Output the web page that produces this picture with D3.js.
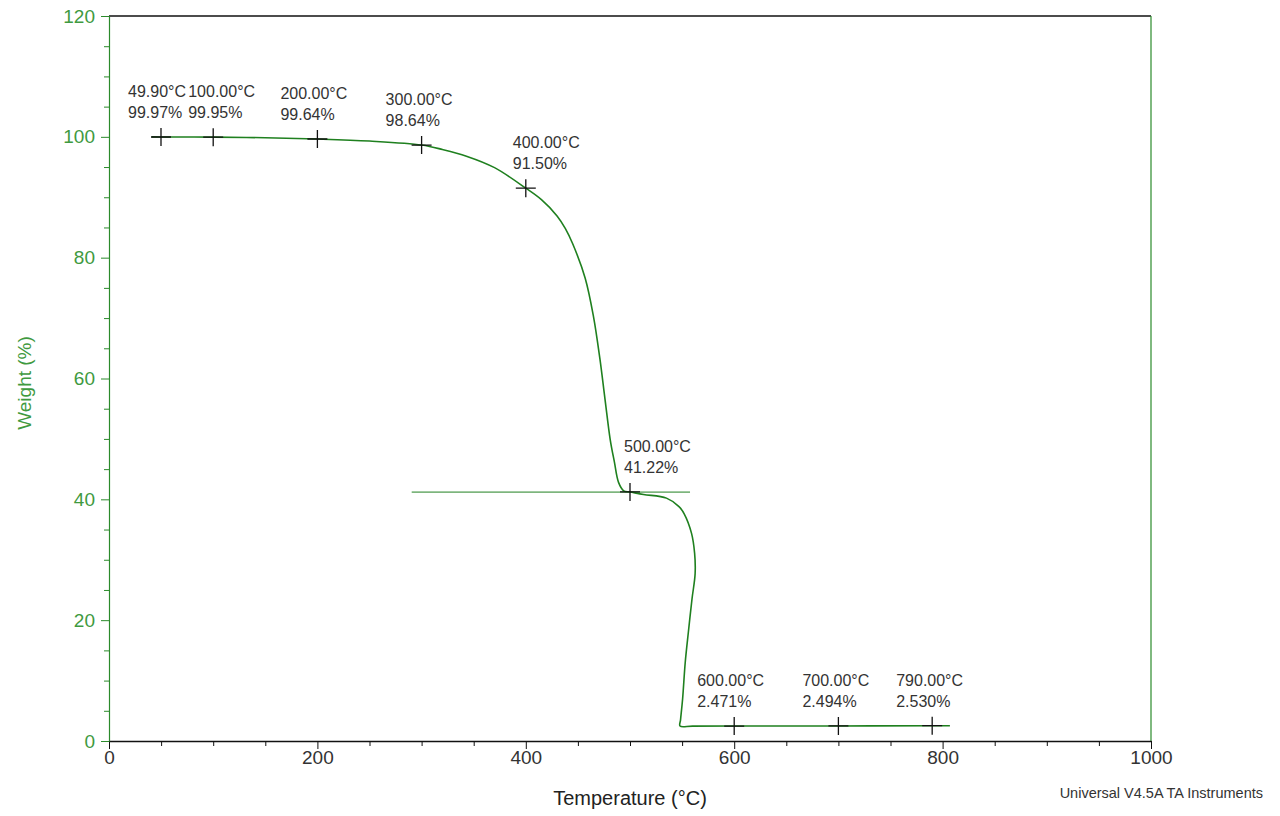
<!DOCTYPE html>
<html>
<head>
<meta charset="utf-8">
<script src="https://cdn.jsdelivr.net/npm/d3@7"></script>
<style>
  body { margin: 0; background: #fff; }
  svg { display: block; font-family: "Liberation Sans", Arial, sans-serif; }
</style>
</head>
<body>
<script>
// TGA curve, weight (%) vs temperature (°C)
const curveTemp   = [41, 49.9, 100, 150, 200, 250, 300, 320, 343, 370, 400, 415, 430, 438, 445, 457, 465, 471, 476, 481, 485, 489, 494, 500, 513, 535, 547, 552, 559, 562, 562.5, 559.5, 556, 553, 550.5, 548.5, 548, 560, 600, 700, 790, 807];
const curveWeight = [100.0, 99.97, 99.95, 99.85, 99.64, 99.3, 98.64, 97.9, 96.8, 94.9, 91.5, 89.6, 86.9, 84.8, 82.3, 76.6, 70.2, 63.4, 56.6, 49.9, 46.2, 42.8, 41.4, 41.22, 40.8, 40.2, 38.8, 37.6, 34.4, 31.1, 27.7, 23.5, 18, 13, 7, 3.5, 2.47, 2.47, 2.471, 2.494, 2.53, 2.53];

// annotated points
const markerTemp   = [49.9, 100, 200, 300, 400, 500, 600, 700, 790];
const markerWeight = [99.97, 99.95, 99.64, 98.64, 91.50, 41.22, 2.471, 2.494, 2.530];
const markerTempText   = ["49.90°C", "100.00°C", "200.00°C", "300.00°C", "400.00°C", "500.00°C", "600.00°C", "700.00°C", "790.00°C"];
const markerWeightText = ["99.97%", "99.95%", "99.64%", "98.64%", "91.50%", "41.22%", "2.471%", "2.494%", "2.530%"];
const labelDx = [-33, -25, -37, -36, -13, -6, -37, -36, -36]; // label shift, px

// horizontal step line
const stepTemp = [290.5, 557.6];
const stepWeight = 41.2;

const xTicks = [0, 200, 400, 600, 800, 1000];
const yTicks = [0, 20, 40, 60, 80, 100, 120];

const width = 1280, height = 816;
const mLeft = 109, mRight = 1151, mTop = 16, mBottom = 741;
const green = "#2b8a2b", lineGreen = "#1f801f", dark = "#333";

const svg = d3.select("body").append("svg")
    .attr("width", width)
    .attr("height", height);

const x = d3.scaleLinear().domain([0, 1000]).range([mLeft, mRight]);
const y = d3.scaleLinear().domain([0, 120]).range([mBottom, mTop]);

// frame: top black, right green
svg.append("line").attr("x1", mLeft).attr("x2", mRight).attr("y1", mTop).attr("y2", mTop)
    .attr("stroke", "#111").attr("stroke-width", 1.5);
svg.append("line").attr("x1", mRight).attr("x2", mRight).attr("y1", mTop).attr("y2", mBottom)
    .attr("stroke", green).attr("stroke-width", 1.2);

// x axis: minor ticks every 50, labelled every 200
const xMinor = d3.range(0, 1001, 50);
const xAxis = svg.append("g")
    .attr("transform", `translate(0,${mBottom})`)
    .call(d3.axisBottom(x).tickValues(xMinor).tickSize(5).tickSizeOuter(0)
        .tickFormat(d => xTicks.includes(d) ? d : ""));
xAxis.select(".domain").attr("stroke", "#111").attr("stroke-width", 1.5);
xAxis.selectAll(".tick line").attr("stroke", "#111")
    .attr("y2", d => xTicks.includes(d) ? 8 : 5);
xAxis.selectAll(".tick text").attr("fill", dark).attr("font-size", "19px").attr("dy", "0.62em").attr("y", 11);

// y axis: minor ticks every 5, labelled every 20
const yMinor = d3.range(0, 121, 5);
const yAxis = svg.append("g")
    .attr("transform", `translate(${mLeft},0)`)
    .call(d3.axisLeft(y).tickValues(yMinor).tickSize(5).tickSizeOuter(0)
        .tickFormat(d => yTicks.includes(d) ? d : ""));
yAxis.select(".domain").attr("stroke", green).attr("stroke-width", 1.2);
yAxis.selectAll(".tick line").attr("stroke", green)
    .attr("x2", d => yTicks.includes(d) ? -8 : -5);
yAxis.selectAll(".tick text").attr("fill", "#3f9a3f").attr("font-size", "19px").attr("x", -14);

// axis titles
svg.append("text")
    .attr("x", (mLeft + mRight) / 2).attr("y", 805)
    .attr("text-anchor", "middle").attr("font-size", "20px").attr("fill", "#222")
    .text("Temperature (°C)");

svg.append("text")
    .attr("transform", `translate(31,383) rotate(-90)`)
    .attr("text-anchor", "middle").attr("font-size", "19px").attr("fill", "#3f9a3f")
    .text("Weight (%)");

svg.append("text")
    .attr("x", 1263).attr("y", 798)
    .attr("text-anchor", "end").attr("font-size", "14.5px").attr("fill", "#333")
    .text("Universal V4.5A TA Instruments");

// step line at the plateau
svg.append("line")
    .attr("x1", x(stepTemp[0])).attr("x2", x(stepTemp[1]))
    .attr("y1", y(stepWeight)).attr("y2", y(stepWeight))
    .attr("stroke", lineGreen).attr("stroke-width", 1);

// curve
const pts = curveTemp.map((t, i) => [t, curveWeight[i]]);
svg.append("path")
    .datum(pts)
    .attr("fill", "none")
    .attr("stroke", lineGreen)
    .attr("stroke-width", 1.6)
    .attr("stroke-linejoin", "round")
    .attr("d", d3.line().x(d => x(d[0])).y(d => y(d[1])).curve(d3.curveCatmullRom.alpha(0.5)));

// cross markers + labels
const marks = svg.append("g").selectAll("g")
    .data(markerTemp.map((t, i) => ({ t, w: markerWeight[i], i })))
    .join("g")
    .attr("transform", d => `translate(${x(d.t)},${y(d.w)})`);

marks.append("path")
    .attr("d", "M-10,0H10M0,-9V9")
    .attr("stroke", "#111").attr("stroke-width", 1.3).attr("fill", "none");

marks.append("text")
    .attr("x", d => labelDx[d.i]).attr("y", -40)
    .attr("font-size", "16px").attr("fill", dark)
    .text(d => markerTempText[d.i]);

marks.append("text")
    .attr("x", d => labelDx[d.i]).attr("y", -19)
    .attr("font-size", "16px").attr("fill", dark)
    .text(d => markerWeightText[d.i]);
</script>
</body>
</html>
